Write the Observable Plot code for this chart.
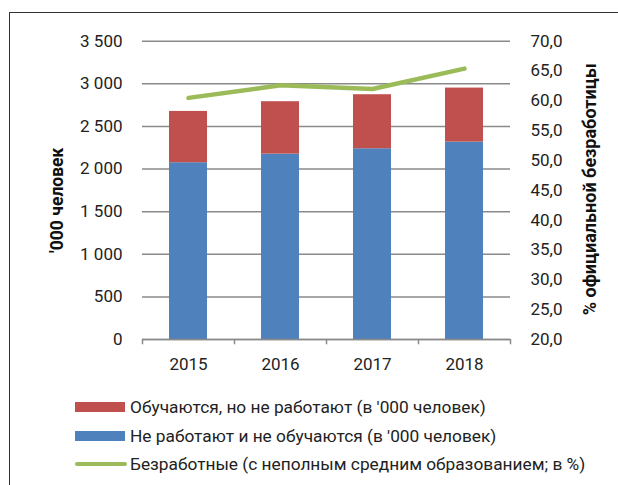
<!DOCTYPE html>
<html>
<head>
<meta charset="utf-8">
<script src="https://cdn.jsdelivr.net/npm/d3@7"></script>
<script src="https://cdn.jsdelivr.net/npm/@observablehq/plot@0.6"></script>
<style>
  html, body { margin: 0; padding: 0; background: #fff; }
  #wrap { position: relative; width: 618px; height: 485px; overflow: hidden; font-family: Roboto, "Liberation Sans", sans-serif; }
  #frameTop { position: absolute; left: 9px; top: 12px; width: 620px; height: 0; border-top: 1.5px solid #333; }
  #frameLeft { position: absolute; left: 9px; top: 12px; width: 0; height: 480px; border-left: 1.5px solid #333; }
  #chart { position: absolute; left: 0; top: 0; }
  #legend { position: absolute; left: 75px; top: 393px; font-size: 17.3px; color: #222; }
  .row { display: flex; align-items: center; height: 28.5px; }
  .sw { width: 50px; height: 10px; margin-right: 5px; }
  .ln { width: 52px; height: 4px; border-radius: 2px; margin-right: 3px; }
</style>
</head>
<body>
<div id="wrap">
  <div id="frameTop"></div>
  <div id="frameLeft"></div>
  <div id="chart"></div>
  <div id="legend"></div>
</div>
<script>
const years = ["2015", "2016", "2017", "2018"];
const notWorkingNotStudying = [2074, 2175, 2238, 2316];
const studyingNotWorking = [602, 615, 634, 634];
const unemploymentPct = [60.5, 62.6, 62.0, 65.4];
const leftTicks = [0, 500, 1000, 1500, 2000, 2500, 3000, 3500];
const rightTicks = [20, 25, 30, 35, 40, 45, 50, 55, 60, 65, 70];
const seriesNames = [
  "Обучаются, но не работают (в '000 человек)",
  "Не работают и не обучаются (в '000 человек)",
  "Безработные (с неполным средним образованием; в %)"
];
const colors = { red: "#C0504D", blue: "#4F81BD", green: "#9BBB59" };

// map right-axis percent onto left-axis units
const pctMin = 20, pctMax = 70, leftMax = 3500;
const pctToLeft = p => (p - pctMin) / (pctMax - pctMin) * leftMax;
const leftToPct = v => v / leftMax * (pctMax - pctMin) + pctMin;

const bars = [];
years.forEach((y, i) => {
  bars.push({year: y, series: "blue", value: notWorkingNotStudying[i]});
  bars.push({year: y, series: "red", value: studyingNotWorking[i]});
});
const lineData = years.map((y, i) => ({year: y, v: pctToLeft(unemploymentPct[i])}));

const fmtLeft = d => d3.format(",")(d).replace(/,/g, " ");
const fmtRight = v => leftToPct(v).toFixed(1).replace(".", ",");

const step = 92;
const chart = Plot.plot({
  width: 618,
  height: 390,
  marginLeft: 142,
  marginRight: 108,
  marginTop: 40.7,
  marginBottom: 51,
  style: { fontFamily: "Roboto, 'Liberation Sans', sans-serif", fontSize: "17px", color: "#222", background: "transparent", overflow: "visible" },
  x: { domain: years, paddingInner: 0.59, paddingOuter: 0.295 },
  y: { domain: [0, 3500] },
  marks: [
    Plot.gridY(leftTicks, { stroke: "#8a8a8a", strokeOpacity: 1, strokeWidth: 1.5 }),
    Plot.barY(bars, Plot.stackY({ x: "year", y: "value", fill: d => colors[d.series], order: ["blue", "red"], z: "series" })),
    Plot.ruleY([0], { stroke: "#8a8a8a", strokeWidth: 1.5 }),
    Plot.ruleX(years, { x: d => d, y1: 0, y2: -62, dx: -step / 2, stroke: "#8a8a8a", strokeWidth: 1.5 }),
    Plot.ruleX([years[years.length - 1]], { x: d => d, y1: 0, y2: -62, dx: step / 2, stroke: "#8a8a8a", strokeWidth: 1.5 }),
    Plot.line(lineData, { x: "year", y: "v", stroke: colors.green, strokeWidth: 4.5, strokeLinecap: "round", strokeLinejoin: "round" }),
    Plot.axisY(leftTicks, { anchor: "left", tickSize: 0, tickPadding: 20, tickFormat: fmtLeft, label: null, fill: "#222" }),
    Plot.axisY(rightTicks.map(pctToLeft), { anchor: "right", tickSize: 0, tickPadding: 20, tickFormat: fmtRight, label: null, fill: "#222" }),
    Plot.axisX({ tickSize: 0, tickPadding: 18, label: null, fill: "#222" }),
    Plot.text(["'000 человек"], { frameAnchor: "left", textAnchor: "middle", rotate: -90, dx: -85, dy: 10, fontWeight: "bold", fontSize: 17.5, fill: "#111" }),
    Plot.text(["% официальной безработицы"], { frameAnchor: "right", textAnchor: "middle", rotate: -90, dx: 80, dy: -1, fontWeight: "bold", fontSize: 18, fill: "#111" })
  ]
});
document.getElementById("chart").appendChild(chart);

const legend = document.getElementById("legend");
const legendItems = [
  { name: seriesNames[0], kind: "sw", color: colors.red },
  { name: seriesNames[1], kind: "sw", color: colors.blue },
  { name: seriesNames[2], kind: "ln", color: colors.green }
];
legendItems.forEach(it => {
  const row = document.createElement("div");
  row.className = "row";
  const s = document.createElement("div");
  s.className = it.kind;
  s.style.background = it.color;
  const t = document.createElement("span");
  t.textContent = it.name;
  row.appendChild(s);
  row.appendChild(t);
  legend.appendChild(row);
});
</script>
</body>
</html>
